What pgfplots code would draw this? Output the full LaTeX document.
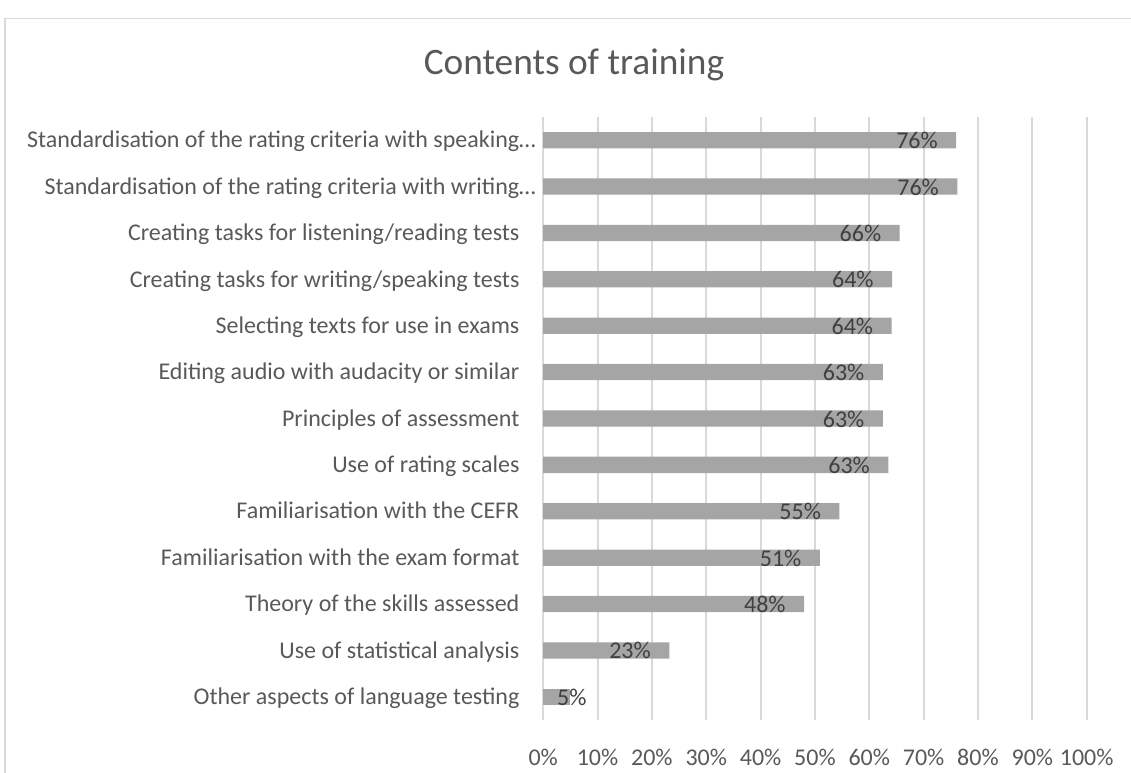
\documentclass[border=0pt]{standalone}
\usepackage{fontspec}
\setmainfont{Carlito}
\usepackage{pgfplots}
\pgfplotsset{compat=1.18}
\usepackage{pgfplotstable}
\definecolor{bargray}{HTML}{A5A5A5}
\definecolor{gridgray}{HTML}{D9D9D9}
\definecolor{txtgray}{HTML}{595959}
\definecolor{lblgray}{HTML}{404040}

\pgfplotstableread{
y x lab
1 23.2 23
2 48.0 48
3 50.9 51
4 54.5 55
5 63.5 63
6 62.5 63
7 62.5 63
8 64.1 64
9 64.2 64
10 65.6 66
11 76.2 76
12 76.0 76
}\datatable

\begin{document}
\begin{tikzpicture}
\useasboundingbox (0,0) rectangle (424.125pt,289.875pt);
\draw[gridgray, line width=0.5pt] (440pt,282.9pt) -- (1.9pt,282.9pt) -- (1.9pt,-10pt);
\node[anchor=base, text=txtgray, font=\fontsize{14}{16.8}\selectfont] at (215.25pt,261.75pt) {Contents of training};
\begin{axis}[
  at={(203.7pt,19.875pt)}, anchor=south west,
  scale only axis, width=203.8pt, height=226.125pt,
  xbar, bar width=6.1pt, bar shift=0pt,
  xmin=0, xmax=100, ymin=-0.5, ymax=12.5,
  xtick={0,10,...,100},
  xticklabels={0\%,10\%,20\%,30\%,40\%,50\%,60\%,70\%,80\%,90\%,100\%},
  ytick={0,1,...,12},
  yticklabels={
    Other aspects of language testing,
    Use of statistical analysis,
    Theory of the skills assessed,
    Familiarisation with the exam format,
    Familiarisation with the CEFR,
    Use of rating scales,
    Principles of assessment,
    Editing audio with audacity or similar,
    Selecting texts for use in exams,
    Creating tasks for writing/speaking tests,
    Creating tasks for listening/reading tests,
    Standardisation of the rating criteria with writing…\hspace*{-6.2pt},
    Standardisation of the rating criteria with speaking…\hspace*{-6.2pt}},
  xmajorgrids, ymajorgrids=false,
  grid style={gridgray, line width=0.75pt},
  axis line style={draw=none},
  major tick length=0pt,
  tick label style={font=\fontsize{9}{10.8}\selectfont, text=txtgray},
  xticklabel style={anchor=base, yshift=-17.2pt},
  yticklabel style={anchor=base east, xshift=-5.4pt, yshift=-2.9pt},
  point meta=explicit symbolic,
  nodes near coords={\pgfplotspointmeta\%},
  clip=false,
]
\addplot[fill=bargray, draw=none,
  every node near coord/.append style={anchor=base east, xshift=-3.4pt, yshift=-3.2pt,
    font=\fontsize{9}{10.8}\selectfont, text=lblgray}]
  table[x=x, y=y, meta=lab] {\datatable};
\addplot[fill=bargray, draw=none,
  every node near coord/.append style={anchor=base east, xshift=9.75pt, yshift=-3.2pt,
    font=\fontsize{9}{10.8}\selectfont, text=lblgray}]
  coordinates {(4.9,0) [5]};
\end{axis}
\end{tikzpicture}
\end{document}
